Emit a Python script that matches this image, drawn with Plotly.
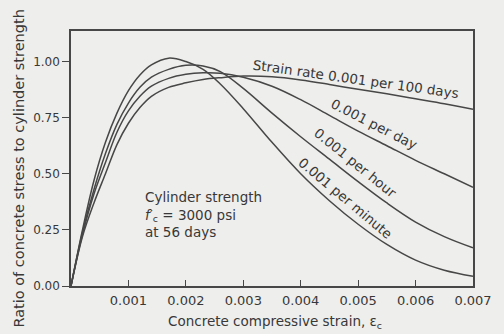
import plotly.graph_objects as go

strain = [0, 0.0002, 0.0004, 0.0006, 0.0008, 0.001, 0.0012, 0.0014, 0.0017, 0.002, 0.0023,
          0.0026, 0.003, 0.0035, 0.004, 0.0045, 0.005, 0.0055, 0.006, 0.0065, 0.007]

per_minute = [0, 0.25, 0.47, 0.64, 0.77, 0.87, 0.94, 0.985, 1.015, 1.0, 0.965,
              0.90, 0.79, 0.64, 0.50, 0.38, 0.275, 0.185, 0.115, 0.07, 0.043]
per_hour = [0, 0.24, 0.43, 0.59, 0.72, 0.815, 0.885, 0.93, 0.965, 0.983, 0.98,
            0.955, 0.88, 0.77, 0.665, 0.565, 0.465, 0.37, 0.285, 0.22, 0.17]
per_day = [0, 0.23, 0.41, 0.55, 0.685, 0.78, 0.845, 0.89, 0.925, 0.943, 0.95,
           0.948, 0.93, 0.89, 0.83, 0.76, 0.69, 0.625, 0.56, 0.50, 0.44]
per_100_days = [0, 0.22, 0.37, 0.50, 0.63, 0.725, 0.795, 0.845, 0.885, 0.905, 0.92,
                0.928, 0.935, 0.932, 0.918, 0.898, 0.876, 0.856, 0.834, 0.812, 0.787]

x_ticks = [0.001, 0.002, 0.003, 0.004, 0.005, 0.006, 0.007]
x_tick_labels = ["0.001", "0.002", "0.003", "0.004", "0.005", "0.006", "0.007"]
y_ticks = [0.0, 0.25, 0.5, 0.75, 1.0]
y_tick_labels = ["0.00", "0.25", "0.50", "0.75", "1.00"]

curve_labels = ["Strain rate 0.001 per 100 days", "0.001 per day", "0.001 per hour", "0.001 per minute"]

LINE = "#474747"
TEXT = "#383838"
BG = "#eeeeec"
FONT = "DejaVu Sans"

fig = go.Figure()
for ys in [per_minute, per_hour, per_day, per_100_days]:
    fig.add_trace(go.Scatter(x=strain, y=ys, mode="lines",
                             line=dict(color=LINE, width=1.5, shape="spline", smoothing=1.0),
                             showlegend=False, hoverinfo="skip"))

label_pos = [(0.00497, 0.922, 8), (0.00528, 0.722, 27), (0.00496, 0.549, 39), (0.00478, 0.393, 40)]
for txt, (lx, ly, ang) in zip(curve_labels, label_pos):
    fig.add_annotation(x=lx, y=ly, xref="x", yref="y", text=txt, showarrow=False,
                       textangle=ang, xanchor="center", yanchor="middle",
                       font=dict(family=FONT, size=13.5, color=TEXT))

fig.add_annotation(x=0.00126, y=0.318, xref="x", yref="y",
                   text="Cylinder strength<br><i>f</i>′<sub>c</sub> = 3000 psi<br>at 56 days",
                   showarrow=False, align="left", xanchor="left", yanchor="middle",
                   font=dict(family=FONT, size=13.5, color=TEXT))

fig.add_annotation(x=0.507, y=-0.143, xref="paper", yref="paper",
                   text="Concrete compressive strain, ε<sub>c</sub>", showarrow=False,
                   xanchor="center", yanchor="middle",
                   font=dict(family=FONT, size=13.5, color=TEXT))
fig.add_annotation(x=-0.128, y=1.09, xref="paper", yref="paper",
                   text="Ratio of concrete stress to cylinder strength", showarrow=False,
                   textangle=-90, xanchor="center", yanchor="top",
                   font=dict(family=FONT, size=14.5, color=TEXT))

fig.update_layout(
    width=504, height=334,
    margin=dict(l=71, r=22, t=31, b=47.5),
    paper_bgcolor=BG, plot_bgcolor=BG,
    font=dict(family=FONT, size=13.5, color=TEXT),
    xaxis=dict(range=[0, 0.007], tickvals=x_ticks, ticktext=x_tick_labels,
               ticks="inside", ticklen=6, tickcolor=LINE, tickwidth=1.3,
               ticklabelstandoff=2, tickfont=dict(family=FONT, size=13, color=TEXT),
               showline=True, linecolor=LINE, linewidth=1.5, mirror=True,
               showgrid=False, zeroline=False, fixedrange=True),
    yaxis=dict(range=[0, 1.136], tickvals=y_ticks, ticktext=y_tick_labels,
               ticks="outside", ticklen=7, tickcolor=LINE, tickwidth=1.3,
               tickfont=dict(family=FONT, size=12, color=TEXT),
               showline=True, linecolor=LINE, linewidth=1.5, mirror=True,
               showgrid=False, zeroline=False, fixedrange=True),
)

fig.write_html("out.html", config={"displayModeBar": False},
               post_script="document.body.style.margin='0';document.body.style.overflow='hidden';")
